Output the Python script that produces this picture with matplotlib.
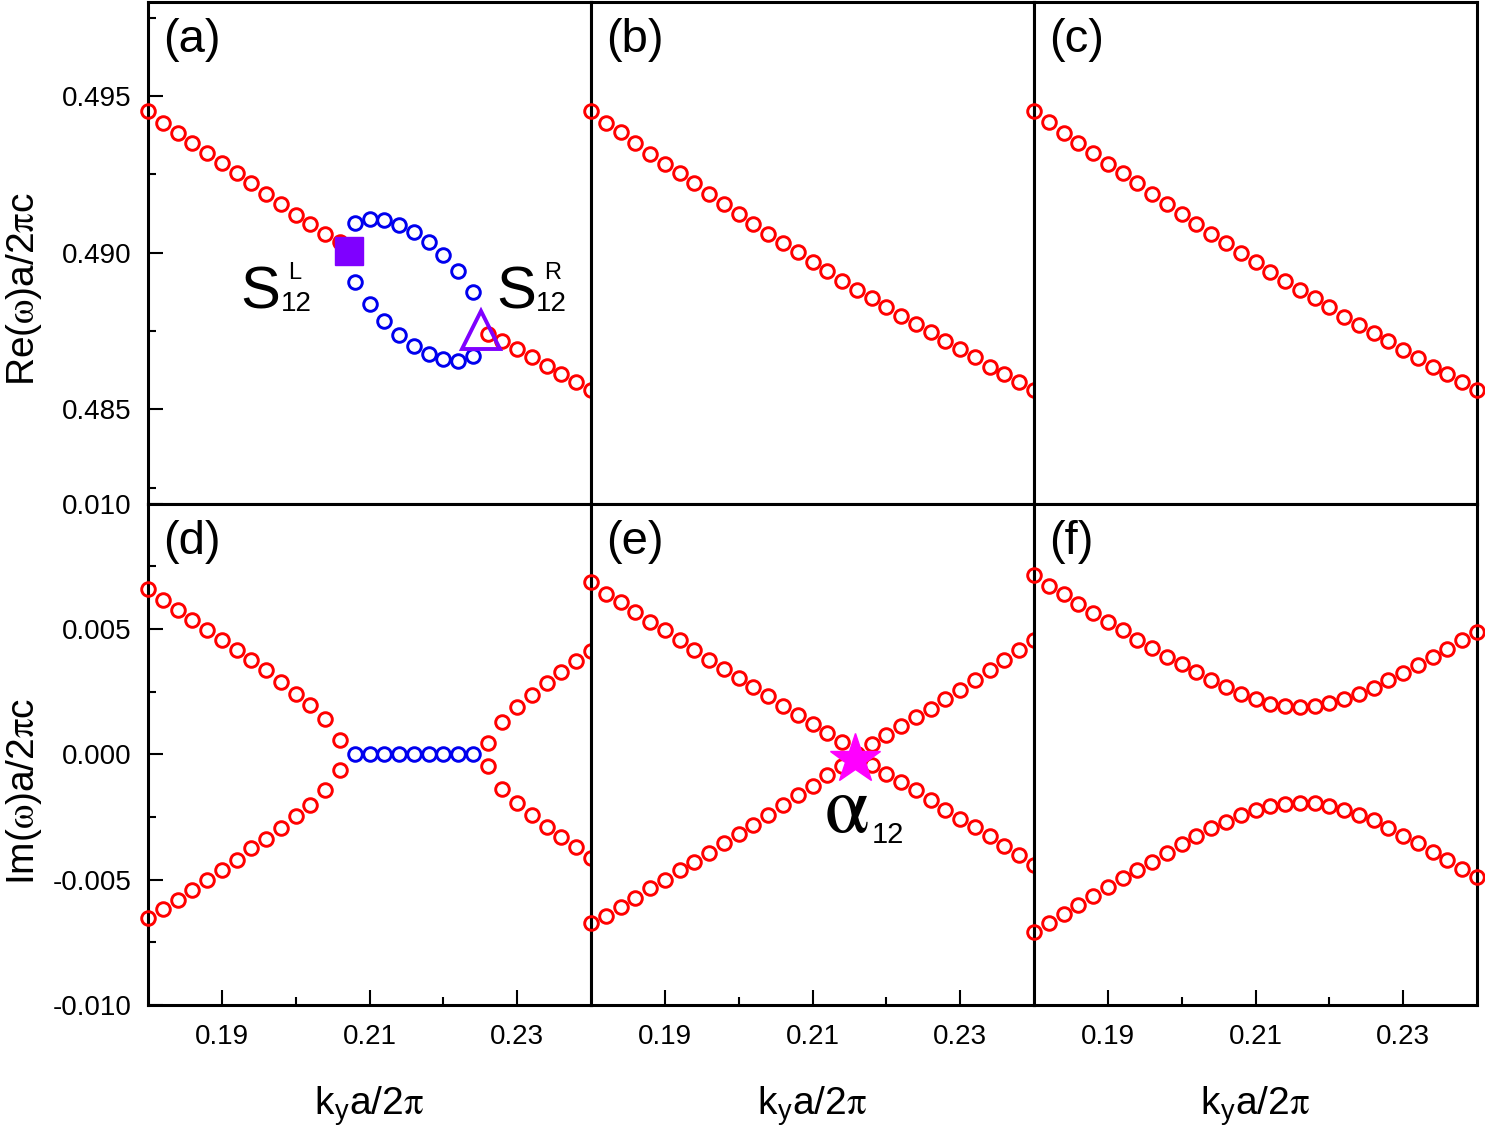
import matplotlib.pyplot as plt
import matplotlib.ticker as mticker

plt.rcParams['font.family'] = ['Liberation Sans', 'DejaVu Sans']
plt.rcParams['mathtext.fontset'] = 'stix'
plt.rcParams['axes.unicode_minus'] = False

# k_y a / 2pi sample points (same grid in every panel)
ky = [0.180, 0.182, 0.184, 0.186, 0.188, 0.190, 0.192, 0.194, 0.196, 0.198,
      0.200, 0.202, 0.204, 0.206, 0.208, 0.210, 0.212, 0.214, 0.216, 0.218,
      0.220, 0.222, 0.224, 0.226, 0.228, 0.230, 0.232, 0.234, 0.236, 0.238,
      0.240]
ky_left = ky[:14]
ky_mid = ky[14:23]
ky_right = ky[23:]

# (a) real part, with the split (blue) region between the two EPs
re_a_red_left = [0.49452, 0.49415, 0.49383, 0.49351, 0.49319, 0.49287, 0.49256,
                 0.49221, 0.49189, 0.49155, 0.49121, 0.49091, 0.49061, 0.49033]
re_a_red_right = [0.48741, 0.48718, 0.48693, 0.48667, 0.48640, 0.48614, 0.48587, 0.48561]
re_a_blue_up = [0.49096, 0.49109, 0.49105, 0.49089, 0.49065, 0.49033, 0.48994, 0.48943, 0.48876]
re_a_blue_dn = [0.48908, 0.48837, 0.48783, 0.48736, 0.48704, 0.48677, 0.48661, 0.48654, 0.48669]
ep_left = (0.20729, 0.49005)
ep_right = (0.22509, 0.48753)

# (b), (c) real part
re_b = [0.49452, 0.49415, 0.49386, 0.49351, 0.49316, 0.49284, 0.49253, 0.49221,
        0.49187, 0.49155, 0.49123, 0.49091, 0.49061, 0.49030, 0.49001, 0.48969,
        0.48943, 0.48911, 0.48881, 0.48856, 0.48826, 0.48799, 0.48773, 0.48746,
        0.48720, 0.48693, 0.48667, 0.48637, 0.48614, 0.48587, 0.48561]
re_c = [0.49452, 0.49418, 0.49383, 0.49351, 0.49319, 0.49284, 0.49256, 0.49221,
        0.49189, 0.49155, 0.49123, 0.49093, 0.49061, 0.49030, 0.48998, 0.48972,
        0.48940, 0.48911, 0.48881, 0.48856, 0.48826, 0.48796, 0.48771, 0.48743,
        0.48718, 0.48690, 0.48665, 0.48637, 0.48614, 0.48587, 0.48561]

# (d) imaginary part
im_d_up_left = [0.006600, 0.006162, 0.005764, 0.005365, 0.004967, 0.004568, 0.004170,
                0.003745, 0.003347, 0.002882, 0.002417, 0.001952, 0.001421, 0.000584]
im_d_dn_left = [-0.006547, -0.006189, -0.005817, -0.005418, -0.005020, -0.004621, -0.004223,
                -0.003758, -0.003360, -0.002922, -0.002470, -0.002005, -0.001434, -0.000611]
im_d_blue = [0.0, 0.0, 0.0, 0.0, 0.0, 0.0, 0.0, 0.0, 0.0]
im_d_up_right = [0.000452, 0.001288, 0.001886, 0.002351, 0.002842, 0.003280, 0.003718, 0.004117]
im_d_dn_right = [-0.000478, -0.001368, -0.001939, -0.002430, -0.002895, -0.003294, -0.003718, -0.004157]

# (e) imaginary part, crossing at alpha_12
im_e_1 = [0.006866, 0.006401, 0.006069, 0.005671, 0.005272, 0.004940, 0.004542, 0.004170,
          0.003772, 0.003413, 0.003054, 0.002683, 0.002311, 0.001912, 0.001554, 0.001195,
          0.000850, 0.000491, 0.000027, -0.000438, -0.000770, -0.001102, -0.001434, -0.001806,
          -0.002205, -0.002563, -0.002895, -0.003267, -0.003665, -0.004024, -0.004422]
im_e_2 = [-0.006746, -0.006454, -0.006082, -0.005750, -0.005352, -0.005020, -0.004621, -0.004289,
          -0.003931, -0.003559, -0.003187, -0.002829, -0.002430, -0.002032, -0.001633, -0.001275,
          -0.000837, -0.000478, 0.000000, 0.000425, 0.000757, 0.001116, 0.001487, 0.001819,
          0.002218, 0.002550, 0.002948, 0.003347, 0.003745, 0.004143, 0.004542]
alpha_pt = (0.2158, -0.0002)

# (f) imaginary part, gapped
im_f_up = [0.007131, 0.006693, 0.006374, 0.005976, 0.005631, 0.005272, 0.004940, 0.004568,
           0.004250, 0.003878, 0.003586, 0.003280, 0.002975, 0.002683, 0.002417, 0.002218,
           0.002019, 0.001912, 0.001886, 0.001926, 0.002045, 0.002218, 0.002390, 0.002656,
           0.002948, 0.003240, 0.003546, 0.003878, 0.004210, 0.004542, 0.004874]
im_f_dn = [-0.007078, -0.006720, -0.006374, -0.006016, -0.005657, -0.005312, -0.004953, -0.004621,
           -0.004289, -0.003931, -0.003586, -0.003267, -0.002961, -0.002696, -0.002430, -0.002204,
           -0.002072, -0.001965, -0.001939, -0.001939, -0.002072, -0.002204, -0.002430, -0.002629,
           -0.002961, -0.003267, -0.003559, -0.003891, -0.004223, -0.004595, -0.004887]

panel_labels = ['(a)', '(b)', '(c)', '(d)', '(e)', '(f)']

RED = '#ff0000'
BLUE = '#0000ee'
PURPLE = '#7f00ff'
circ = dict(marker='o', ls='none', ms=9.8, mfc='none', mew=2.1, clip_on=False, zorder=3)

fig = plt.figure(figsize=(14.85, 11.33), dpi=100)
axes = fig.subplots(2, 3, sharex=True, gridspec_kw=dict(hspace=0, wspace=0))
fig.subplots_adjust(left=148/1485, right=1477/1485, top=1 - 2/1133, bottom=1 - 1005/1133)

ax = axes[0, 0]
ax.plot(ky_left, re_a_red_left, mec=RED, **circ)
ax.plot(ky_right, re_a_red_right, mec=RED, **circ)
ax.plot(ky_mid, re_a_blue_up, mec=BLUE, **circ)
ax.plot(ky_mid, re_a_blue_dn, mec=BLUE, **circ)
ax.plot(*ep_left, marker='s', ms=19.5, color=PURPLE, ls='none', clip_on=False, zorder=5)
ax.plot(*ep_right, marker='^', ms=27.5, mfc='none', mec=PURPLE, mew=2.8, ls='none',
        clip_on=False, zorder=5)
ax.text(0.19251, 0.48822, 'S', fontsize=43, ha='left', va='baseline')
ax.text(0.19793, 0.48815, '12', fontsize=20, ha='left', va='baseline')
ax.text(0.19902, 0.48917, 'L', fontsize=17, ha='left', va='baseline')
ax.text(0.22722, 0.48822, 'S', fontsize=43, ha='left', va='baseline')
ax.text(0.23251, 0.48815, '12', fontsize=20, ha='left', va='baseline')
ax.text(0.23359, 0.48917, 'R', fontsize=17, ha='left', va='baseline')

axes[0, 1].plot(ky, re_b, mec=RED, **circ)
axes[0, 2].plot(ky, re_c, mec=RED, **circ)

ax = axes[1, 0]
ax.plot(ky_left, im_d_up_left, mec=RED, **circ)
ax.plot(ky_left, im_d_dn_left, mec=RED, **circ)
ax.plot(ky_mid, im_d_blue, mec=BLUE, **circ)
ax.plot(ky_right, im_d_up_right, mec=RED, **circ)
ax.plot(ky_right, im_d_dn_right, mec=RED, **circ)

ax = axes[1, 1]
ax.plot(ky, im_e_1, mec=RED, **circ)
ax.plot(ky, im_e_2, mec=RED, **circ)
ax.plot(*alpha_pt, marker='*', ms=38, color='#ff00ff', ls='none', clip_on=False, zorder=5)
ax.text(0.21150, -0.003108, r'$\mathrm{\alpha}$', fontsize=58, ha='left', va='baseline')
ax.text(0.21800, -0.003546, '12', fontsize=21, ha='left', va='baseline')

ax = axes[1, 2]
ax.plot(ky, im_f_up, mec=RED, **circ)
ax.plot(ky, im_f_dn, mec=RED, **circ)

for i, ax in enumerate(axes.flat):
    row, col = divmod(i, 3)
    ax.set_xlim(0.18, 0.24)
    if row == 0:
        ax.set_ylim(0.482, 0.498)
        ax.set_yticks([0.485, 0.490, 0.495])
        ax.set_yticks([0.4825, 0.4875, 0.4925, 0.4975], minor=True)
    else:
        ax.set_ylim(-0.010, 0.010)
        ax.set_yticks([-0.010, -0.005, 0.0, 0.005, 0.010])
        ax.set_yticks([-0.0075, -0.0025, 0.0025, 0.0075], minor=True)
    ax.set_xticks([0.19, 0.21, 0.23])
    ax.set_xticks([0.20, 0.22], minor=True)
    ax.yaxis.set_major_formatter(mticker.FormatStrFormatter('%.3f'))
    ax.xaxis.set_major_formatter(mticker.FormatStrFormatter('%.2f'))
    ax.tick_params(which='both', direction='in', top=False, right=False, width=1.5,
                   labelsize=20, left=(col == 0), labelleft=(col == 0),
                   bottom=(row == 1), labelbottom=(row == 1))
    ax.tick_params(which='major', length=11)
    ax.tick_params(which='minor', length=5.5)
    ax.tick_params(axis='y', pad=12)
    ax.tick_params(axis='x', pad=14)
    for sp in ax.spines.values():
        sp.set_linewidth(2.2)
    ax.text(0.035, 0.968, panel_labels[i], transform=ax.transAxes, fontsize=34,
            ha='left', va='top')
    if row == 1:
        ax.text(0.5, -0.219, r'k$_\mathregular{y}$a/2$\mathrm{\pi}$', transform=ax.transAxes,
                fontsize=28, ha='center', va='baseline')

fig.text(24/1485, 1 - 289/1133, r'Re($\mathrm{\omega}$)a/2$\mathrm{\pi}$c', rotation=90,
         fontsize=28, ha='center', va='center')
fig.text(24/1485, 1 - 791/1133, r'Im($\mathrm{\omega}$)a/2$\mathrm{\pi}$c', rotation=90,
         fontsize=28, ha='center', va='center')

fig.savefig('out.png', dpi=100)
